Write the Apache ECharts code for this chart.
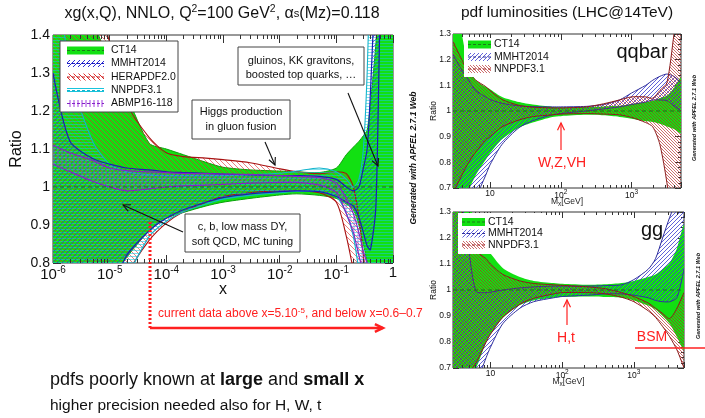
<!DOCTYPE html>
<html>
<head>
<meta charset="utf-8">
<script src="https://cdn.jsdelivr.net/npm/echarts@6/dist/echarts.min.js"></script>
<style>
html,body{margin:0;padding:0;background:#fff;}
#chart{width:705px;height:418px;}
</style>
</head>
<body>
<div id="chart"></div>
<script>
// ---------- xg(x,Q) ratio to CT14, NNLO, Q^2 = 100 GeV^2 ----------
const gluonX = [1e-6, 2e-6, 5e-6, 1e-5, 2e-5, 5e-5, 1e-4, 2e-4, 5e-4, 1e-3, 3e-3, 1e-2, 2e-2, 5e-2, 0.1, 0.15, 0.2, 0.25, 0.3, 0.35, 0.4, 0.5, 0.6, 0.8, 1.0];
const ct14Up  = [1.8, 1.62, 1.44, 1.33, 1.24, 1.115, 1.10, 1.085, 1.065, 1.052, 1.045, 1.042, 1.04, 1.038, 1.05, 1.085, 1.105, 1.12, 1.135, 1.15, 1.22, 1.38, 1.6, 1.9, 2.0];
const ct14Lo  = [0.6, 0.65, 0.7, 0.75, 0.815, 0.885, 0.918, 0.933, 0.95, 0.96, 0.97, 0.979, 0.982, 0.978, 0.97, 0.955, 0.94, 0.9, 0.85, 0.8, 0.72, 0.6, 0.5, 0.4, 0.4];
const heraUp  = [2.0, 1.8, 1.55, 1.38, 1.22, 1.13, 1.09, 1.08, 1.076, 1.072, 1.064, 1.048, 1.04, 1.035, 1.04, 1.035, 1.0, 0.92, 0.82, 0.75, 0.7, 0.6, 0.6, 0.6, 0.6];
const heraLo  = [0.3, 0.4, 0.55, 0.68, 0.77, 0.86, 0.905, 0.935, 0.96, 0.975, 0.985, 0.99, 0.99, 0.985, 0.96, 0.87, 0.78, 0.7, 0.6, 0.55, 0.5, 0.5, 0.5, 0.5, 0.5];
const nnpdfUp = [1.7, 1.3, 1.12, 1.06, 1.04, 1.032, 1.03, 1.03, 1.03, 1.03, 1.032, 1.036, 1.042, 1.05, 1.04, 1.02, 1.0, 1.02, 1.1, 1.3, 1.6, 2.0, 2.0, 2.0, 2.0];
const nnpdfLo = [0.3, 0.4, 0.55, 0.66, 0.76, 0.87, 0.91, 0.935, 0.955, 0.968, 0.978, 0.985, 0.988, 0.988, 0.975, 0.93, 0.87, 0.78, 0.7, 0.5, 0.5, 0.5, 0.5, 0.5, 0.5];
const mmhtUp  = [1.3, 1.12, 1.075, 1.06, 1.05, 1.045, 1.04, 1.038, 1.036, 1.034, 1.032, 1.03, 1.03, 1.028, 1.02, 1.0, 0.99, 1.0, 1.05, 1.1, 1.25, 1.6, 2.0, 2.0, 2.0];
const mmhtLo  = [0.5, 0.55, 0.65, 0.72, 0.82, 0.885, 0.918, 0.94, 0.96, 0.972, 0.982, 0.988, 0.99, 0.988, 0.975, 0.96, 0.95, 0.92, 0.88, 0.845, 0.835, 0.95, 1.5, 2.0, 2.0];
const abmpUp  = [1.11, 1.09, 1.07, 1.05, 1.043, 1.04, 1.038, 1.036, 1.035, 1.034, 1.033, 1.03, 1.028, 1.025, 1.01, 0.97, 0.93, 0.88, 0.83, 0.8, 0.76, 0.7, 0.65, 0.65, 0.65];
const abmpLo  = [1.06, 1.04, 1.015, 1.0, 0.99, 0.995, 1.0, 1.003, 1.005, 1.007, 1.01, 1.012, 1.012, 1.005, 0.985, 0.93, 0.88, 0.82, 0.77, 0.72, 0.65, 0.65, 0.6, 0.6, 0.6];

// ---------- parton luminosities, LHC 14 TeV, ratio to CT14 ----------
const lumiM = [3, 4, 5, 6.3, 8.7, 10, 14.8, 25.7, 40, 75.9, 100, 229, 400, 676, 1000, 1585, 2000, 2512, 3162, 3981, 5000];
// q-qbar
const qqCtUp = [1.5, 1.3, 1.17, 1.12, 1.094, 1.085, 1.055, 1.035, 1.025, 1.016, 1.015, 1.016, 1.018, 1.02, 1.027, 1.035, 1.04, 1.05, 1.06, 1.09, 1.13];
const qqCtLo = [0.5, 0.6, 0.69, 0.75, 0.81, 0.835, 0.89, 0.935, 0.955, 0.977, 0.98, 0.985, 0.983, 0.977, 0.97, 0.96, 0.957, 0.95, 0.94, 0.93, 0.915];
const qqMmUp = [1.22, 1.16, 1.12, 1.08, 1.055, 1.045, 1.03, 1.02, 1.017, 1.016, 1.016, 1.018, 1.025, 1.043, 1.07, 1.1, 1.12, 1.135, 1.144, 1.135, 1.11];
const qqMmLo = [0.4, 0.5, 0.58, 0.66, 0.75, 0.79, 0.87, 0.935, 0.962, 0.985, 0.99, 1.0, 1.008, 1.016, 1.025, 1.035, 1.043, 1.043, 1.04, 1.02, 1.0];
const qqNnUp = [1.27, 1.2, 1.15, 1.12, 1.095, 1.08, 1.045, 1.022, 1.015, 1.012, 1.012, 1.016, 1.028, 1.043, 1.055, 1.055, 1.05, 1.08, 1.11, 1.3, 1.5];
const qqNnLo = [0.68, 0.75, 0.8, 0.84, 0.887, 0.9, 0.938, 0.965, 0.978, 0.985, 0.988, 0.99, 0.988, 0.985, 0.975, 0.955, 0.938, 0.87, 0.72, 0.5, 0.4];
// g-g
const ggCtUp = [1.6, 1.45, 1.35, 1.24, 1.16, 1.14, 1.085, 1.05, 1.035, 1.027, 1.024, 1.02, 1.022, 1.027, 1.035, 1.05, 1.06, 1.08, 1.105, 1.16, 1.25];
const ggCtLo = [0.5, 0.58, 0.66, 0.7, 0.8, 0.83, 0.892, 0.942, 0.96, 0.97, 0.973, 0.975, 0.973, 0.97, 0.96, 0.94, 0.925, 0.9, 0.87, 0.82, 0.77];
const ggMmUp = [1.7, 1.35, 1.15, 0.995, 0.99, 0.992, 1.0, 1.008, 1.012, 1.015, 1.015, 1.015, 1.017, 1.02, 1.04, 1.08, 1.12, 1.2, 1.28, 1.35, 1.45];
const ggMmLo = [0.4, 0.5, 0.58, 0.64, 0.74, 0.78, 0.87, 0.93, 0.955, 0.97, 0.975, 0.98, 0.985, 0.985, 0.98, 0.97, 0.96, 0.955, 0.955, 0.97, 1.08];
const ggNnUp = [1.45, 1.3, 1.2, 1.15, 1.12, 1.1, 1.06, 1.035, 1.025, 1.02, 1.018, 1.012, 1.005, 0.99, 0.975, 0.95, 0.93, 0.91, 0.89, 0.93, 0.99];
const ggNnLo = [0.55, 0.62, 0.68, 0.72, 0.8, 0.83, 0.895, 0.945, 0.968, 0.985, 0.99, 0.99, 0.985, 0.972, 0.955, 0.92, 0.895, 0.86, 0.82, 0.77, 0.7];

const gluonLegend = ['CT14', 'MMHT2014', 'HERAPDF2.0', 'NNPDF3.1', 'ABMP16-118'];
const lumiLegend = ['CT14', 'MMHT2014', 'NNPDF3.1'];

const FONT = '"Liberation Sans", Arial, Helvetica, sans-serif';
const GREEN = '#12e012';
const RED = '#ff2020';

// hatch tiles used as fill patterns
function hatch(color, kind, s, lw, alpha) {
  const c = document.createElement('canvas');
  c.width = s; c.height = s;
  const g = c.getContext('2d');
  g.strokeStyle = color; g.lineWidth = lw; g.globalAlpha = alpha == null ? 1 : alpha;
  g.beginPath();
  if (kind === '/') {
    g.moveTo(0, s); g.lineTo(s, 0);
    g.moveTo(-1, 1); g.lineTo(1, -1);
    g.moveTo(s - 1, s + 1); g.lineTo(s + 1, s - 1);
  } else if (kind === '\\') {
    g.moveTo(0, 0); g.lineTo(s, s);
    g.moveTo(-1, s - 1); g.lineTo(1, s + 1);
    g.moveTo(s - 1, -1); g.lineTo(s + 1, 1);
  } else if (kind === '-') {
    g.moveTo(0, s / 2); g.lineTo(s, s / 2);
  } else {
    g.moveTo(s / 2, 0); g.lineTo(s / 2, s);
  }
  g.stroke();
  return { image: c, repeat: 'repeat' };
}
const patMmht = hatch('#2b2bd6', '/', 5, 1, 0.6);
const patHera = hatch('#e02828', '\\', 5, 1, 0.6);
const patNnpdf = hatch('#19c4dc', '-', 3, 1, 0.55);
const patAbmp = hatch('#a23ee0', '|', 4, 1, 0.6);
const patMmhtR = hatch('#3a3ad0', '/', 4, 1, 0.8);
const patNnpdfR = hatch('#b42020', '\\', 3, 1, 0.65);
// stronger tiles for the legend swatches
const patMmhtL = hatch('#2b2bd6', '/', 5, 1, 1);
const patHeraL = hatch('#e02828', '\\', 5, 1, 1);
const patNnpdfL = hatch('#19c4dc', '-', 3, 1, 1);
const patAbmpL = hatch('#a23ee0', '|', 4, 1, 1);

const SMOOTH = 0.25;
function band(name, gi, xs, up, lo, fill, edge, edgeW, z) {
  return {
    type: 'custom', name, xAxisIndex: gi * 2, yAxisIndex: gi * 2, z,
    data: [[xs[0], 1]], silent: true, animation: false,
    renderItem(params, api) {
      const cs = params.coordSys;
      const top = xs.map((x, i) => api.coord([x, up[i]]));
      const bot = xs.map((x, i) => api.coord([x, lo[i]]));
      const ch = [{
        type: 'polygon', shape: { points: top.concat(bot.slice().reverse()), smooth: SMOOTH },
        style: { fill: fill, stroke: null }
      }];
      if (edge) {
        ch.push({ type: 'polyline', shape: { points: top, smooth: SMOOTH }, style: { stroke: edge, lineWidth: edgeW, fill: null } });
        ch.push({ type: 'polyline', shape: { points: bot, smooth: SMOOTH }, style: { stroke: edge, lineWidth: edgeW, fill: null } });
      }
      return { type: 'group', clipPath: { type: 'rect', shape: { x: cs.x, y: cs.y, width: cs.width, height: cs.height } }, children: ch };
    }
  };
}

// minor ticks of a log axis, drawn on bottom and top frame edges
function minorTicks(gi, vals, len, yRef) {
  return {
    type: 'custom', xAxisIndex: gi * 2, yAxisIndex: gi * 2, z: 20,
    data: [[vals[0], yRef]], silent: true, animation: false,
    renderItem(params, api) {
      const cs = params.coordSys; const ch = [];
      vals.forEach(v => {
        const x = Math.round(api.coord([v, yRef])[0]) + 0.5;
        ch.push({ type: 'line', shape: { x1: x, y1: cs.y + cs.height, x2: x, y2: cs.y + cs.height - len }, style: { stroke: '#333', lineWidth: 1 } });
        ch.push({ type: 'line', shape: { x1: x, y1: cs.y, x2: x, y2: cs.y + len }, style: { stroke: '#333', lineWidth: 1 } });
      });
      return { type: 'group', children: ch };
    }
  };
}
function logMinor(lo, hi) {
  const out = [];
  for (let e = Math.floor(Math.log10(lo)); e <= Math.ceil(Math.log10(hi)); e++) {
    for (let m = 2; m <= 9; m++) { const v = m * Math.pow(10, e); if (v > lo && v < hi) out.push(v); }
  }
  return out;
}
function refLine(gi, x0, x1) {
  return {
    type: 'line', xAxisIndex: gi * 2, yAxisIndex: gi * 2, z: 15, silent: true, animation: false,
    symbol: 'none', data: [[x0, 1], [x1, 1]],
    lineStyle: { color: '#1c6e1c', width: 1, type: [4, 3] }
  };
}

function expLabel(v, small) {
  const l = Math.log10(v), e = Math.round(l);
  if (Math.abs(l - e) > 1e-6) return '';
  if (e === 0) return '{b|1}';
  if (e === 1 && small) return '{b|10}';
  return '{b|10}{s|' + e + '}';
}

const grids = [
  { left: 53, top: 35, width: 340, height: 228 },
  { left: 453, top: 34, width: 228, height: 154 },
  { left: 453, top: 212, width: 231, height: 156 }
].map(g => Object.assign(g, { show: true, borderColor: '#333', borderWidth: 1, backgroundColor: 'transparent', containLabel: false, outerBoundsMode: 'none' }));

function xPair(gi, min, max, big) {
  const fs = big ? 15 : 8.5, ss = big ? 10 : 6.5;
  const common = { type: 'log', logBase: 10, gridIndex: gi, min, max, splitNumber: 6, splitLine: { show: false }, axisLine: { show: false } };
  const bottom = Object.assign({}, common, {
    position: 'bottom',
    axisTick: { show: true, inside: true, length: big ? 8 : 6, lineStyle: { color: '#333' } },
    axisLabel: {
      margin: big ? 2 : 1, showMinLabel: true, showMaxLabel: true, hideOverlap: false,
      formatter: v => expLabel(v, !big),
      rich: {
        b: { fontSize: fs, fontFamily: FONT, color: '#111' },
        s: { fontSize: ss, fontFamily: FONT, color: '#111', padding: [0, 0, big ? 10 : 6, 0] }
      }
    },
    name: big ? 'x' : '{m|M}{x|x}{m|[GeV]}', nameLocation: 'middle', nameGap: big ? 19 : 8, nameMoveOverlap: false,
    nameTextStyle: big ? { fontSize: 16, fontFamily: FONT, color: '#111' } : {
      rich: { m: { fontSize: 8.5, fontFamily: FONT, color: '#222' }, x: { fontSize: 6.5, fontFamily: FONT, color: '#222', padding: [5, 0, 0, 0] } }
    }
  });
  const top = Object.assign({}, common, {
    position: 'top',
    axisTick: { show: true, inside: true, length: big ? 8 : 6, lineStyle: { color: '#333' } },
    axisLabel: { show: false }
  });
  return [bottom, top];
}
function yPair(gi, min, max, big) {
  const common = { type: 'value', gridIndex: gi, min, max, interval: 0.1, splitLine: { show: false }, axisLine: { show: false } };
  const left = Object.assign({}, common, {
    position: 'left',
    axisTick: { show: true, inside: true, length: big ? 8 : 6, lineStyle: { color: '#333' } },
    minorTick: { show: true, splitNumber: 5, length: big ? 4 : 3, lineStyle: { color: '#333' } },
    axisLabel: { fontSize: big ? 14 : 8.5, fontFamily: FONT, color: '#111', margin: big ? 3 : 2, showMinLabel: true, showMaxLabel: true },
    name: 'Ratio', nameLocation: 'middle', nameRotate: 90, nameGap: big ? 28 : 15, nameMoveOverlap: false,
    nameTextStyle: { fontSize: big ? 16 : 8.5, fontFamily: FONT, color: '#111' }
  });
  const right = Object.assign({}, common, {
    position: 'right',
    axisTick: { show: true, inside: true, length: big ? 8 : 6, lineStyle: { color: '#333' } },
    minorTick: { show: true, splitNumber: 5, length: big ? 4 : 3, lineStyle: { color: '#333' } },
    axisLabel: { show: false }
  });
  return [left, right];
}

const xAxis = [].concat(xPair(0, 1e-6, 1, true), xPair(1, 3, 5000, false), xPair(2, 3, 5000, false));
const yAxis = [].concat(yPair(0, 0.8, 1.4, true), yPair(1, 0.7, 1.3, false), yPair(2, 0.7, 1.3, false));

const series = [
  band('CT14', 0, gluonX, ct14Up, ct14Lo, GREEN, '#0aa00a', 1, 2),
  band('HERAPDF2.0', 0, gluonX, heraUp, heraLo, patHera, '#a81212', 1.1, 3),
  band('NNPDF3.1', 0, gluonX, nnpdfUp, nnpdfLo, patNnpdf, '#14b4cc', 1.1, 4),
  band('MMHT2014', 0, gluonX, mmhtUp, mmhtLo, patMmht, '#1c1cb4', 1.2, 5),
  band('ABMP16-118', 0, gluonX, abmpUp, abmpLo, patAbmp, '#8424c4', 1.2, 6),
  refLine(0, 1e-6, 1),
  minorTicks(0, logMinor(1e-6, 1), 4, 1),

  band('CT14', 1, lumiM, qqCtUp, qqCtLo, GREEN, null, 0, 2),
  band('MMHT2014', 1, lumiM, qqMmUp, qqMmLo, patMmhtR, '#30309c', 1, 3),
  band('NNPDF3.1', 1, lumiM, qqNnUp, qqNnLo, patNnpdfR, '#8c1c1c', 1, 4),
  refLine(1, 3, 5000),
  minorTicks(1, logMinor(3, 5000), 3, 1),

  band('CT14', 2, lumiM, ggCtUp, ggCtLo, GREEN, null, 0, 2),
  band('MMHT2014', 2, lumiM, ggMmUp, ggMmLo, patMmhtR, '#30309c', 1, 3),
  band('NNPDF3.1', 2, lumiM, ggNnUp, ggNnLo, patNnpdfR, '#8c1c1c', 1, 4),
  refLine(2, 3, 5000),
  minorTicks(2, logMinor(3, 5000), 3, 1)
];

// ---------- annotation helpers ----------
function txt(x, y, text, size, o) {
  o = o || {};
  return {
    type: 'text', x, y, rotation: o.rot || 0, z: 100, silent: true,
    style: {
      text, x: 0, y: 0, fill: o.color || '#111', fontSize: size, fontFamily: FONT,
      fontWeight: o.weight || 'normal', fontStyle: o.style || 'normal',
      align: o.align || 'left', verticalAlign: o.va || 'middle',
      textAlign: o.align || 'left', textVerticalAlign: o.va || 'middle',
      rich: o.rich
    }
  };
}
function arrow(x1, y1, x2, y2, color, w, head, dash) {
  const a = Math.atan2(y2 - y1, x2 - x1), h = head || 7, sp = 0.45;
  const p1 = [x2 - h * Math.cos(a - sp), y2 - h * Math.sin(a - sp)];
  const p2 = [x2 - h * Math.cos(a + sp), y2 - h * Math.sin(a + sp)];
  return [
    { type: 'line', z: 90, silent: true, shape: { x1, y1, x2, y2 }, style: { stroke: color, lineWidth: w, lineDash: dash || null } },
    { type: 'polyline', z: 90, silent: true, shape: { points: [p1, [x2, y2], p2] }, style: { stroke: color, lineWidth: w, fill: null } }
  ];
}
function box(x, y, w, h, border) {
  return { type: 'rect', z: 80, silent: true, shape: { x, y, width: w, height: h }, style: { fill: '#fff', stroke: border === false ? null : '#444', lineWidth: 1 } };
}
function swatch(x, y, w, h, fill, dashColor) {
  return [
    { type: 'rect', z: 85, silent: true, shape: { x, y: y - h / 2, width: w, height: h }, style: { fill, stroke: null } },
    { type: 'line', z: 86, silent: true, shape: { x1: x, y1: y, x2: x + w, y2: y }, style: { stroke: dashColor, lineWidth: 1, lineDash: [3, 2] } }
  ];
}

const supRich = (base) => ({
  s: { fontSize: base * 0.65, fontFamily: FONT, fill: '#111', color: '#111', padding: [0, 0, base * 0.55, 0] },
  u: { fontSize: base * 0.7, fontFamily: FONT, fill: '#111', color: '#111' }
});

const graphics = [];
// titles
graphics.push(txt(222, 14, 'xg(x,Q), NNLO, Q{s|2}=100 GeV{s|2}, α{u|s}(Mz)=0.118', 16, { align: 'center', rich: supRich(16) }));
graphics.push(txt(567, 13, 'pdf luminosities (LHC@14TeV)', 15.5, { align: 'center' }));

// gluon legend
graphics.push(box(60, 41, 118, 71));
const gl = [
  [GREEN, '#1c7a1c'], [patMmhtL, '#2020c0'], [patHeraL, '#c01818'], [patNnpdfL, '#14b4cc'], [patAbmpL, '#8424c4']
];
const glY = [50.5, 63.5, 77, 90.5, 103.5];
gluonLegend.forEach((name, i) => {
  graphics.push(...swatch(67, glY[i], 37, i === 0 ? 8 : 7, gl[i][0], gl[i][1]));
  graphics.push(txt(111, glY[i], name, 10.5));
});

// lumi legends
function lumiLegendAt(x, y, w, h, rows) {
  graphics.push(box(x, y, w, h, false));
  const f = [[GREEN, '#1c7a1c'], [patMmhtR, '#30309c'], [patNnpdfR, '#a01c1c']];
  lumiLegend.forEach((name, i) => {
    graphics.push(...swatch(x + 4, rows[i], 23, 8, f[i][0], f[i][1]));
    graphics.push(txt(x + 30, rows[i], name, 10.5));
  });
}
lumiLegendAt(464, 38, 88, 39, [44.5, 57, 69]);
lumiLegendAt(458, 213, 88, 41, [222, 233.5, 245]);

graphics.push(txt(642, 52, 'qqbar', 20, { align: 'center' }));
graphics.push(txt(652, 230, 'gg', 20, { align: 'center' }));

// annotation boxes in the gluon panel
graphics.push(box(238, 47, 126, 38));
graphics.push(txt(301, 60.5, 'gluinos, KK gravitons,', 11, { align: 'center' }));
graphics.push(txt(301, 75, 'boosted top quarks, …', 11, { align: 'center' }));
graphics.push(...arrow(348, 93, 378, 166, '#111', 1.1, 8));

graphics.push(box(192, 100, 98, 39));
graphics.push(txt(241, 112, 'Higgs production', 11, { align: 'center' }));
graphics.push(txt(241, 127, 'in gluon fusion', 11, { align: 'center' }));
graphics.push(...arrow(265, 142, 275, 165, '#111', 1.1, 8));

graphics.push(box(185, 214, 115, 38));
graphics.push(txt(242.5, 227, 'c, b, low mass DY,', 11, { align: 'center' }));
graphics.push(txt(242.5, 242, 'soft QCD, MC tuning', 11, { align: 'center' }));
graphics.push(...arrow(183, 232, 123, 205, '#111', 1.1, 8));

// data coverage marker
graphics.push({ type: 'line', z: 95, silent: true, shape: { x1: 150, y1: 222, x2: 150, y2: 328 }, style: { stroke: RED, lineWidth: 3, lineDash: [2, 2] } });
graphics.push(...arrow(150, 328, 383, 328, RED, 2.5, 9));
graphics.push(txt(158, 314, 'current data above x=5.10{r|-5}, and below x=0.6–0.7', 12, {
  color: RED, rich: { r: { fontSize: 8, fontFamily: FONT, fill: RED, color: RED, padding: [0, 0, 6, 0] } }
}));

// luminosity annotations
graphics.push(...arrow(561, 150, 561, 123, RED, 1.2, 8));
graphics.push(txt(562, 163, 'W,Z,VH', 14, { align: 'center', color: RED }));
graphics.push(...arrow(567, 325, 567, 300, RED, 1.2, 8));
graphics.push(txt(566, 338, 'H,t', 14, { align: 'center', color: RED }));
graphics.push(txt(652, 337, 'BSM', 14, { align: 'center', color: RED }));
graphics.push({ type: 'line', z: 95, silent: true, shape: { x1: 635, y1: 348, x2: 705, y2: 348 }, style: { stroke: RED, lineWidth: 1.5 } });

// generator stamps
graphics.push(txt(414, 158, 'Generated with APFEL 2.7.1 Web', 8.5, { align: 'center', rot: Math.PI / 2, weight: 'bold', style: 'italic' }));
graphics.push(txt(694, 118, 'Generated with APFEL 2.7.1 Web', 5.5, { align: 'center', rot: Math.PI / 2, weight: 'bold', style: 'italic' }));
graphics.push(txt(698, 296, 'Generated with APFEL 2.7.1 Web', 5.5, { align: 'center', rot: Math.PI / 2, weight: 'bold', style: 'italic' }));

// summary lines
graphics.push(txt(50, 380, 'pdfs poorly known at {b|large} and {b|small x}', 18, {
  rich: { b: { fontSize: 18, fontWeight: 'bold', fontFamily: FONT, fill: '#111', color: '#111' } }
}));
graphics.push(txt(50, 406, 'higher precision needed also for H, W, t', 15.5));

const chart = echarts.init(document.getElementById('chart'), null, { renderer: 'canvas' });
chart.setOption({
  backgroundColor: '#fff',
  animation: false,
  textStyle: { fontFamily: FONT },
  grid: grids,
  xAxis,
  yAxis,
  series,
  graphic: { elements: graphics }
});
</script>
</body>
</html>
